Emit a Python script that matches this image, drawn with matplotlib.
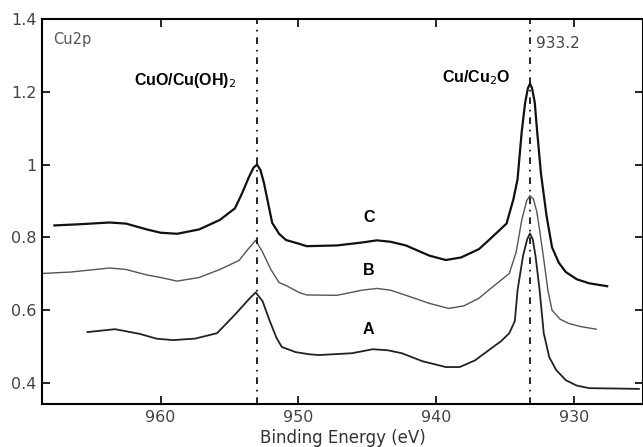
import matplotlib
matplotlib.use("Agg")
import matplotlib.pyplot as plt

# binding energy (eV) / intensity
energy_c = [967.7, 966.0, 963.7, 962.5, 961.0, 960.0, 958.8, 957.2, 955.7, 954.6,
            954.1, 953.6, 953.25, 953.0, 952.75, 952.5, 952.2, 951.9, 951.4, 950.9,
            949.9, 949.4, 947.2, 945.4, 944.3, 943.3, 942.2, 940.5, 939.3, 938.2,
            936.9, 936.2, 934.9, 934.4, 934.1, 933.8, 933.55, 933.35, 933.2, 933.05,
            932.85, 932.7, 932.4, 932.0, 931.6, 931.1, 930.6, 929.8, 928.9, 927.6]
intensity_c = [0.833, 0.836, 0.841, 0.838, 0.822, 0.813, 0.810, 0.822, 0.848, 0.880,
               0.920, 0.965, 0.992, 1.000, 0.985, 0.950, 0.895, 0.840, 0.810, 0.793,
               0.782, 0.776, 0.778, 0.786, 0.792, 0.788, 0.778, 0.750, 0.738, 0.745,
               0.768, 0.792, 0.838, 0.905, 0.960, 1.090, 1.170, 1.210, 1.222, 1.210,
               1.170, 1.100, 0.975, 0.860, 0.773, 0.730, 0.705, 0.685, 0.674, 0.666]

energy_b = [968.6, 966.5, 963.7, 962.5, 961.0, 960.0, 958.8, 957.2, 955.7, 954.3,
            953.6, 953.1, 952.6, 952.0, 951.4, 950.9, 949.9, 949.4, 947.2, 945.4,
            944.3, 943.3, 942.2, 940.5, 939.1, 938.0, 936.9, 936.2, 934.7, 934.2,
            933.8, 933.45, 933.2, 932.95, 932.7, 932.5, 932.2, 931.9, 931.6, 931.0,
            930.4, 929.5, 928.4]
intensity_b = [0.701, 0.705, 0.716, 0.712, 0.697, 0.690, 0.680, 0.690, 0.712, 0.737,
               0.770, 0.792, 0.760, 0.712, 0.676, 0.668, 0.648, 0.642, 0.641, 0.655,
               0.660, 0.655, 0.641, 0.619, 0.605, 0.612, 0.633, 0.655, 0.701, 0.760,
               0.847, 0.900, 0.915, 0.905, 0.870, 0.820, 0.740, 0.655, 0.600, 0.575,
               0.564, 0.555, 0.548]

energy_a = [965.3, 963.3, 961.5, 960.3, 959.1, 957.5, 955.9, 954.5, 953.6, 953.1,
            952.6, 952.1, 951.6, 951.2, 950.2, 949.2, 948.5, 946.1, 944.6, 943.5,
            942.5, 941.0, 939.3, 938.3, 937.2, 936.2, 935.3, 934.7, 934.3, 934.1,
            933.7, 933.4, 933.2, 933.0, 932.8, 932.5, 932.2, 931.8, 931.3, 930.6,
            929.8, 928.9, 927.0, 925.3]
intensity_a = [0.540, 0.548, 0.535, 0.522, 0.518, 0.522, 0.537, 0.592, 0.630, 0.649,
               0.625, 0.573, 0.525, 0.499, 0.485, 0.479, 0.477, 0.482, 0.493, 0.490,
               0.482, 0.460, 0.444, 0.444, 0.462, 0.490, 0.515, 0.537, 0.570, 0.655,
               0.750, 0.795, 0.811, 0.795, 0.750, 0.655, 0.537, 0.471, 0.436, 0.408,
               0.393, 0.386, 0.385, 0.384]

x_ticks = [960, 950, 940, 930]
y_ticks = [0.4, 0.6, 0.8, 1.0, 1.2, 1.4]
y_tick_labels = ["0.4", "0.6", "0.8", "1", "1.2", "1.4"]
ref_lines = [953.0, 933.2]

fig = plt.figure(figsize=(6.43, 4.47), dpi=100)
ax = fig.add_axes([0.0653, 0.0962, 0.9347, 0.8613])

ax.plot(energy_c, intensity_c, color="#111111", lw=1.6)
ax.plot(energy_b, intensity_b, color="#555555", lw=1.0)
ax.plot(energy_a, intensity_a, color="#222222", lw=1.3)

for e in ref_lines:
    ax.axvline(e, color="black", lw=1.2, ls=(0, (4, 3.5, 1, 3.5)))

ax.set_xlim(968.6, 925.0)
ax.set_ylim(0.3425, 1.4)
ax.set_xticks(x_ticks)
ax.set_yticks(y_ticks)
ax.set_yticklabels(y_tick_labels)
ax.tick_params(direction="in", length=6, width=1.2, top=True, right=True,
               labelsize=11.5, labelcolor="#444444", pad=4)
for s in ax.spines.values():
    s.set_linewidth(1.5)

ax.set_xlabel("Binding Energy (eV)", fontsize=12, color="#333333", labelpad=3)

ax.text(967.8, 1.345, "Cu2p", fontsize=10.5, color="#555555", va="center", ha="left")
ax.text(932.75, 1.332, "933.2", fontsize=11, color="#444444", va="center", ha="left")
bold = dict(fontsize=11.5, fontweight="bold", family="Liberation Sans",
            va="center", ha="center")
ax.text(958.2, 1.23, "CuO/Cu(OH)$_2$", **bold)
ax.text(937.1, 1.238, "Cu/Cu$_2$O", **bold)
ax.text(944.9, 0.855, "C", **bold)
ax.text(944.9, 0.71, "B", **bold)
ax.text(944.9, 0.546, "A", **bold)

fig.savefig("out.png", dpi=100)
